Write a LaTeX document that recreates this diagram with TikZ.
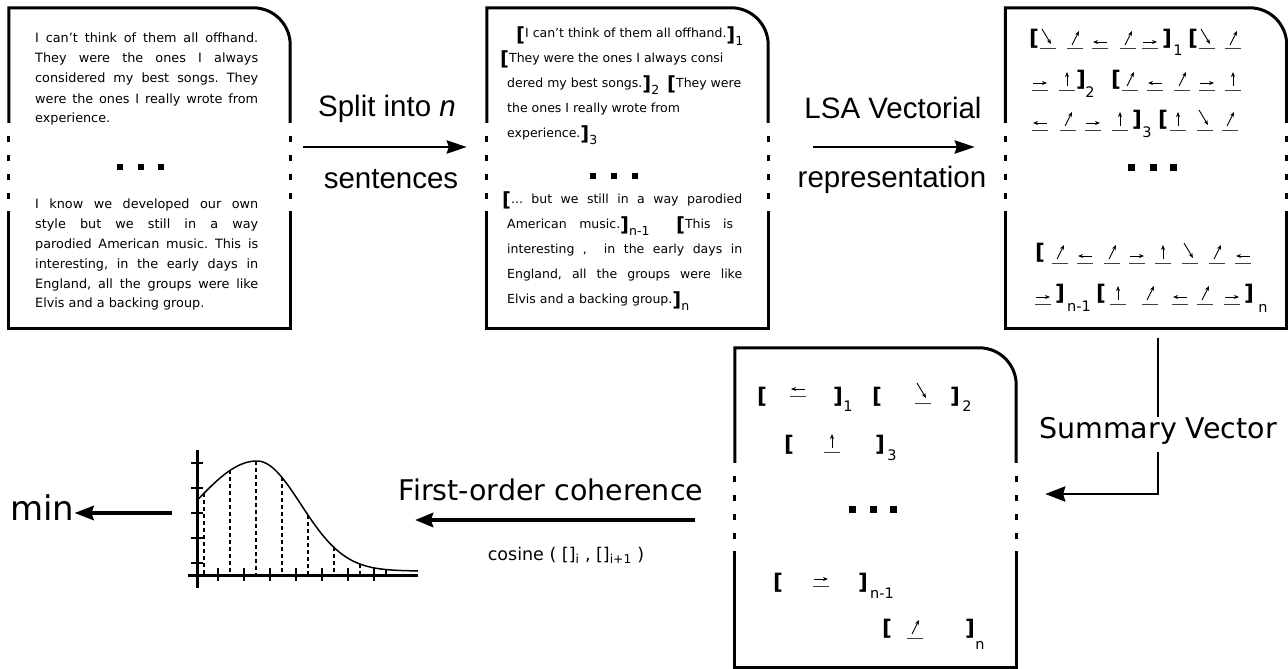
\documentclass[tikz,border=0pt]{standalone}
\usepackage{fontspec}
\setmainfont{DejaVu Sans}
\newfontfamily\arialf{Liberation Sans}
\usetikzlibrary{arrows.meta,calc}
\frenchspacing

\newcommand\tobr{\raisebox{-3pt}{\fontsize{19.5}{19.5}\selectfont\bfseries[}}
\newcommand\tcbr{\raisebox{-3pt}{\fontsize{19.5}{19.5}\selectfont\bfseries]}}
\newcommand\tsub[1]{\raisebox{-7pt}{\fontsize{12.5}{12.5}\selectfont #1}}
\newcommand\vi[3]{\pic at (#2,-#3) {v#1};}

\newcommand\docframe[1]{%
 \draw[frame] ([yshift=-115pt]#1.north west) -- (#1.north west) -- ([xshift=-37pt]#1.north east) arc[start angle=90,end angle=0,radius=37pt] -- ([yshift=-115pt]#1.north east);
 \draw[frame] ([yshift=-203pt]#1.north west) -- (#1.south west) -- (#1.south east) -- ([yshift=-203pt]#1.north east);
 \foreach \dd in {128,147,166,185}{%
   \draw[frame] ([yshift=-\dd pt]#1.north west) -- ++(0,-6);
   \draw[frame] ([yshift=-\dd pt]#1.north east) -- ++(0,-6);}%
}

\tikzset{
 x=1pt, y=1pt,
 boxarea/.style={minimum width=281pt, minimum height=320pt, inner sep=0pt, draw=none},
 frame/.style={line width=3pt},
 t1/.style={anchor=base west, inner sep=0pt, font=\fontsize{12.8}{15}\selectfont},
 t2/.style={anchor=base west, inner sep=0pt, font=\fontsize{12.5}{15}\selectfont},
 brk/.style={inner sep=0pt, anchor=center, font=\fontsize{21.5}{21.5}\selectfont\bfseries},
 sb/.style={inner sep=0pt, anchor=center, font=\fontsize{14.5}{14.5}\selectfont},
 lbl/.style={inner sep=0pt, anchor=base, font=\arialf\fontsize{29.5}{30}\selectfont},
 dlbl/.style={inner sep=0pt, anchor=base, font=\fontsize{28.5}{30}\selectfont},
 clbl/.style={inner sep=0pt, anchor=base, font=\fontsize{17.5}{18}\selectfont},
 mlbl/.style={inner sep=0pt, anchor=base west, font=\fontsize{34}{36}\selectfont},
 vtip/.style={-{Stealth[length=5pt,width=4pt]}, line width=0.9pt},
 uline/.style={line width=1pt, black!75},
 pics/vse/.style={code={\draw[uline] (-8,0)--(8,0); \draw[vtip] (-6,20)--(3,5);}},
 pics/vne/.style={code={\draw[uline] (-8,0)--(8,0); \draw[vtip] (-3,4)--(4,18);}},
 pics/vl/.style={code={\draw[uline] (-8,0)--(8,0); \draw[vtip] (7,7)--(-7,7);}},
 pics/vr/.style={code={\draw[uline] (-8,0)--(8,0); \draw[vtip] (-7,7)--(7,7);}},
 pics/vu/.style={code={\draw[uline] (-8,0)--(8,0); \draw[vtip] (0,4)--(0,18);}},
 arrA/.style={line width=2.8pt, -{Stealth[length=20pt,width=13pt,inset=2pt]}},
 arrS/.style={line width=2.8pt, -{Stealth[length=20pt,width=15pt,inset=2pt]}},
 lineS/.style={line width=2.8pt},
 arrF/.style={line width=4.5pt, -{Stealth[length=18pt,width=14pt,inset=2pt]}},
 arrM/.style={line width=4pt, -{Stealth[length=19pt,width=14pt,inset=2pt]}},
 dsq/.style={fill=black},
}

\begin{document}
\begin{tikzpicture}
\useasboundingbox (0,0) rectangle (1288,-669);

% ---- boxes
\node[boxarea] (b1) at (149.5,-168) {};
\node[boxarea] (b2) at (627.5,-168) {};
\node[boxarea] (b3) at (1146,-168) {};
\node[boxarea, minimum height=319pt] (b4) at (875.5,-507.5) {};
\docframe{b1}
\docframe{b2}
\docframe{b3}
\docframe{b4}

% ---- box 1 text
\node[t1] (a1) at (35,-43) {\makebox[223pt][s]{I can’t think of them all offhand.}};
\node[t1] (a2) at (35,-63) {\makebox[223pt][s]{They were the ones I always}};
\node[t1] (a3) at (35,-83) {\makebox[223pt][s]{considered my best songs. They}};
\node[t1] (a4) at (35,-103) {\makebox[223pt][s]{were the ones I really wrote from}};
\node[t1] (a5) at (35,-122) {experience.};
\node[t1] (a6) at (35,-208) {\makebox[223pt][s]{I know we developed our own}};
\node[t1] (a7) at (35,-228) {\makebox[223pt][s]{style but we still in a way}};
\node[t1] (a8) at (35,-248) {\makebox[223pt][s]{parodied American music. This is}};
\node[t1] (a9) at (35,-268) {\makebox[223pt][s]{interesting, in the early days in}};
\node[t1] (a10) at (35,-288) {\makebox[223pt][s]{England, all the groups were like}};
\node[t1] (a11) at (35,-307) {Elvis and a backing group.};
\foreach \xx in {120,141,161} \fill[dsq] (\xx-3.3,-163.7) rectangle (\xx+3.3,-170.3);

% ---- box 2 text
\node[t2] (c1) at (516,-38) {\tobr I can’t think of them all offhand.\tcbr\tsub{1}};
\node[t2] (c2) at (500,-63) {\tobr They were the ones I always consi};
\node[t2] (c3) at (507,-88) {dered my best songs.\tcbr\tsub{2}\hspace{8pt}\tobr They were};
\node[t2] (c4) at (507,-112) {the ones I really wrote from};
\node[t2] (c5) at (507,-137) {experience.\tcbr\tsub{3}};
\node[t2] (c6) at (502,-203) {\makebox[240pt][s]{\tobr... but we still in a way parodied}};
\node[t2] (c7) at (507,-228) {\makebox[226pt][s]{American music.\tcbr\tsub{n-1}\hspace{14pt} \tobr This is}};
\node[t2] (c8) at (507,-253) {\makebox[235pt][s]{interesting ,\ \ in the early days in}};
\node[t2] (c9) at (507,-278) {\makebox[235pt][s]{England, all the groups were like}};
\node[t2] (c10) at (507,-303) {Elvis and a backing group.\tcbr\tsub{n}};
\foreach \xx in {593,614,635} \fill[dsq] (\xx-3.3,-172.7) rectangle (\xx+3.3,-179.3);

% ---- box 3 vectors
\node[brk] (r1a) at (1034,-39) {[};
\vi{se}{1048}{49} \vi{ne}{1075}{49} \vi{l}{1100}{49} \vi{ne}{1128}{49} \vi{r}{1150}{49}
\node[brk] (r1b) at (1167,-39) {]};
\node[sb] (r1s) at (1178,-50) {1};
\node[brk] (r1c) at (1193,-39) {[};
\vi{se}{1207}{49} \vi{ne}{1233}{49}

\vi{r}{1040}{90} \vi{u}{1067}{90}
\node[brk] (r2a) at (1081,-80) {]};
\node[sb] (r2s) at (1090,-92) {2};
\node[brk] (r2b) at (1116,-80) {[};
\vi{ne}{1130}{90} \vi{l}{1155}{90} \vi{ne}{1182}{90} \vi{r}{1207}{90} \vi{u}{1233}{90}

\vi{l}{1040}{130} \vi{ne}{1068}{130} \vi{r}{1093}{130} \vi{u}{1120}{130}
\node[brk] (r3a) at (1137,-120) {]};
\node[sb] (r3s) at (1147,-132) {3};
\node[brk] (r3b) at (1163,-120) {[};
\vi{u}{1178}{130} \vi{se}{1205}{130} \vi{ne}{1230}{130}

\foreach \xx in {1131,1153,1173} \fill[dsq] (\xx-3.5,-163.5) rectangle (\xx+3.5,-170.5);

\node[brk] (r4a) at (1040,-253) {[};
\vi{ne}{1060}{263} \vi{l}{1085}{263} \vi{ne}{1112}{263} \vi{r}{1137}{263}
\vi{u}{1163}{263} \vi{se}{1190}{263} \vi{ne}{1217}{263} \vi{l}{1243}{263}

\vi{r}{1043}{304}
\node[brk] (r5a) at (1060,-294) {]};
\node[sb] (r5s) at (1079,-306) {n-1};
\node[brk] (r5b) at (1101,-294) {[};
\vi{u}{1118}{304} \vi{ne}{1150}{304} \vi{l}{1180}{304} \vi{ne}{1205}{304} \vi{r}{1232}{304}
\node[brk] (r5c) at (1249,-294) {]};
\node[sb] (r5t) at (1263,-308) {n};

% ---- box 4 summary vectors
\node[brk] (s1a) at (762,-397) {[};
\vi{l}{798}{396}
\node[brk] (s1b) at (838,-397) {]};
\node[sb] (s1s) at (848,-406) {1};
\node[brk] (s1c) at (877,-397) {[};
\vi{se}{923}{403}
\node[brk] (s1d) at (955,-397) {]};
\node[sb] (s1t) at (967,-406) {2};

\node[brk] (s2a) at (789,-445) {[};
\vi{u}{832}{452}
\node[brk] (s2b) at (880,-445) {]};
\node[sb] (s2s) at (892,-455) {3};

\foreach \xx in {852,873,893} \fill[dsq] (\xx-3.5,-505.5) rectangle (\xx+3.5,-512.5);

\node[brk] (s3a) at (778,-583) {[};
\vi{r}{821}{586}
\node[brk] (s3b) at (863,-583) {]};
\node[sb] (s3s) at (882,-593) {n-1};

\node[brk] (s4a) at (887,-629) {[};
\vi{ne}{915}{638}
\node[brk] (s4b) at (970,-629) {]};
\node[sb] (s4s) at (980,-645) {n};

% ---- labels and arrows
\node[lbl] (sp1) at (387,-117) {Split into \textit{n}};
\node[lbl] (sp2) at (391,-188) {sentences};
\draw[arrA] ([shift={(13pt,21pt)}]b1.east) -- ([shift={(-20pt,21pt)}]b2.west);

\node[lbl] (ls1) at (893,-118) {LSA Vectorial};
\node[lbl] (ls2) at (892,-187) {representation};
\draw[arrA] ([shift={(45pt,21pt)}]b2.east) -- ([shift={(-30.5pt,21pt)}]b3.west);

\node[dlbl] (sv) at (1158,-438) {Summary Vector};
\draw[lineS] ([shift={(12pt,-10pt)}]b3.south) -- (sv.north);
\draw[arrS] ([yshift=-8pt]sv.south) |- ([shift={(29pt,13.5pt)}]b4.east);

\node[dlbl] (fo) at (551,-500) {First-order coherence};
\node[clbl] (co) at (566,-560) {cosine ( []\textsubscript{i} , []\textsubscript{i+1} )};
\coordinate (foend) at (415,-520);
\draw[arrF] ([shift={(-40pt,-12.5pt)}]b4.west) -- (foend);

% ---- chart
\draw[line width=3pt] (197,-450) -- (197,-588);
\draw[line width=3pt] (188,-575) -- (418,-575);
\foreach \yy in {463,488,513,538,563} \draw[line width=2pt] (191,-\yy) -- (203,-\yy);
\foreach \xx in {218,244,270,296,322,348,374} \draw[line width=2pt] (\xx,-568) -- (\xx,-581);
\draw[line width=1.5pt] plot[domain=197:257,samples=40] (\x,{-571+110*exp(-((\x-257)/90)*((\x-257)/90))})
  -- plot[domain=257:400,samples=60] (\x,{-571+110*exp(-((\x-257)/62)*((\x-257)/62))}) -- (418,-571);
\foreach \xx in {204,230,256,282,308,334,360,386}{%
  \pgfmathsetmacro\ss{ifthenelse(\xx<257,90,62)}
  \pgfmathsetmacro\cy{-571+110*exp(-((\xx-257)/\ss)*((\xx-257)/\ss))}
  \draw[line width=1.3pt, dash pattern=on 4pt off 3pt] (\xx,\cy) -- (\xx,-574);}
\coordinate (minstart) at (172,-513);

\node[mlbl] (mn) at (10,-520) {min};
\draw[arrM] (minstart) -- (mn.east |- minstart);
\end{tikzpicture}
\end{document}
